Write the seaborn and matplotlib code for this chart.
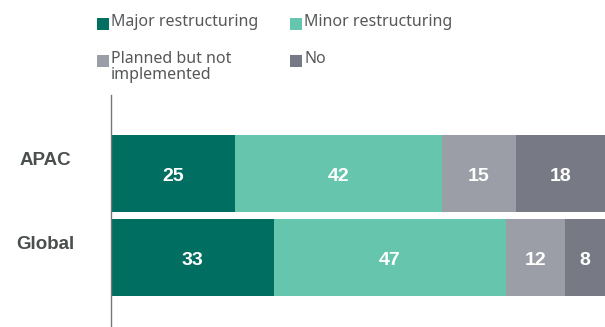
import matplotlib
matplotlib.use("Agg")
import matplotlib.pyplot as plt
import matplotlib.transforms as mtransforms
from matplotlib.patches import Rectangle
import seaborn as sns
import pandas as pd

# Survey responses by region (percent)
regions = ["APAC", "Global"]
responses = ["Major restructuring", "Minor restructuring", "Planned but not\nimplemented", "No"]
major = [25, 33]
minor = [42, 47]
planned = [15, 12]
no = [18, 8]
colors = ["#016e62", "#66c5ad", "#9b9ea7", "#777a84"]

sns.set_theme(style="white")
plt.rcParams["font.family"] = ["Noto Sans", "DejaVu Sans"]

series = [major, minor, planned, no]
df = pd.DataFrame({"region": regions})
for name, vals in zip(responses, series):
    df[name] = vals

fig = plt.figure(figsize=(6.05, 3.27), dpi=100)
ax = fig.add_axes([111 / 605, 0.0, 1 - 111 / 605, 1 - 95 / 327])

# Stack by drawing cumulative totals from the widest down
cum = df[responses].cumsum(axis=1)
for name, color in reversed(list(zip(responses, colors))):
    sns.barplot(data=cum.assign(region=df["region"]), x=name, y="region",
                color=color, width=0.917, saturation=1, ax=ax, orient="h",
                linewidth=0, edgecolor="none")

ax.set_xlim(0, 100)
ax.set_ylim(1.827, -0.935)

# Segment value labels
starts = cum[responses].values - df[responses].values
for i in range(len(regions)):
    for j, name in enumerate(responses):
        v = df[name].iloc[i]
        ax.text(starts[i, j] + v / 2, i + 0.04, f"{v}", ha="center", va="center",
                color="white", fontsize=14, fontweight="bold", family="Liberation Sans")

# Region labels
trans = mtransforms.blended_transform_factory(fig.transFigure, ax.transData)
for i, r in enumerate(regions):
    ax.text(45 / 605, i - 0.16, r, transform=trans, ha="center", va="center",
            fontsize=13.5, fontweight="bold", color="#4a4f4d", family="Liberation Sans")

ax.set_xlabel("")
ax.set_ylabel("")
ax.set_xticks([])
ax.set_yticks([])
for s in ["top", "right", "bottom"]:
    ax.spines[s].set_visible(False)
ax.spines["left"].set_color("#777777")
ax.spines["left"].set_linewidth(1.0)

# Legend in two columns
W, H = 605, 327
legend_pos = [(97, 18), (290, 18), (97, 55), (290, 55)]
for (px, py), name, color in zip(legend_pos, responses, colors):
    fig.add_artist(Rectangle((px / W, 1 - (py + 12) / H), 12 / W, 12 / H,
                             transform=fig.transFigure, color=color, lw=0))
    fig.text((px + 14) / W, 1 - (py - 4) / H, name, ha="left", va="top",
             fontsize=11.5, color="#555759", linespacing=1.0)

fig.savefig("out.png", dpi=100)
